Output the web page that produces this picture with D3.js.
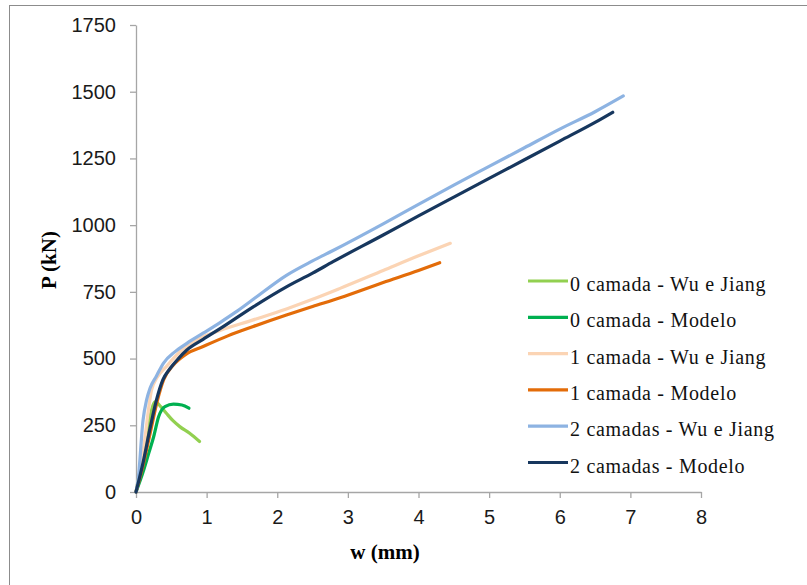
<!DOCTYPE html>
<html>
<head>
<meta charset="utf-8">
<script src="https://cdn.jsdelivr.net/npm/d3@7"></script>
<style>
  body { margin: 0; background: #fff; }
</style>
</head>
<body>
<div id="chart"></div>
<script>
// data: [w (mm), P (kN)]
const zeroWuJiang = [[0,0],[0.1,140],[0.2,285],[0.27,338],[0.35,320],[0.43,295],[0.52,268],[0.62,245],[0.76,220],[0.9,189]];
const zeroModelo = [[0,0],[0.1,75],[0.18,145],[0.25,207],[0.32,282],[0.41,320],[0.53,329],[0.65,326],[0.75,314]];
const oneWuJiang = [[0,0],[0.1,150],[0.22,382],[0.3,430],[0.43,470],[0.6,520],[0.95,582],[1.19,605],[1.66,645],[2.13,686],[2.5,722],[2.89,763],[3.5,830],[4.0,885],[4.45,932]];
const oneModelo = [[0,0],[0.1,100],[0.2,220],[0.3,340],[0.39,420],[0.53,476],[0.7,515],[0.95,545],[1.3,585],[1.66,620],[2.13,663],[2.5,695],[2.89,728],[3.5,785],[4.0,830],[4.3,859]];
const twoWuJiang = [[0,0],[0.03,45],[0.1,270],[0.15,345],[0.2,390],[0.29,435],[0.39,483],[0.55,525],[0.72,557],[0.95,595],[1.19,635],[1.4,672],[1.66,722],[2.13,812],[2.5,866],[2.79,905],[3.5,1005],[4.0,1078],[4.5,1150],[5.0,1220],[5.5,1290],[6.0,1360],[6.5,1425],[6.9,1484]];
const twoModelo = [[0,0],[0.1,110],[0.2,240],[0.29,345],[0.38,420],[0.48,462],[0.6,500],[0.72,532],[0.95,572],[1.19,612],[1.66,694],[2.13,769],[2.5,820],[2.79,863],[3.5,963],[4.0,1035],[4.5,1105],[5.0,1175],[5.5,1245],[6.0,1315],[6.5,1385],[6.75,1423]];

const seriesNames = ["0 camada - Wu e Jiang", "0 camada - Modelo", "1 camada - Wu e Jiang",
                     "1 camada - Modelo", "2 camadas - Wu e Jiang", "2 camadas - Modelo"];
const seriesData = [zeroWuJiang, zeroModelo, oneWuJiang, oneModelo, twoWuJiang, twoModelo];
const seriesColors = ["#92d050", "#00b050", "#fbd4b4", "#e36c09", "#8db3e2", "#17375e"];

const xTicks = [0, 1, 2, 3, 4, 5, 6, 7, 8];
const yTicks = [0, 250, 500, 750, 1000, 1250, 1500, 1750];

const width = 807, height = 585;

const svg = d3.select("#chart")
  .append("svg")
    .attr("width", width)
    .attr("height", height);

// outer frame of the page figure
svg.append("rect")
  .attr("x", 9.5)
  .attr("y", 5.5)
  .attr("width", 820)
  .attr("height", 600)
  .attr("fill", "none")
  .attr("stroke", "#8c8c8c")
  .attr("stroke-width", 1);

const x = d3.scaleLinear().domain([0, 8]).range([136, 701]);
const y = d3.scaleLinear().domain([0, 1750]).range([492, 25]);

// X axis
const xAxis = svg.append("g")
  .attr("transform", `translate(0, ${y(0)})`)
  .call(d3.axisBottom(x).tickValues(xTicks).tickFormat(d3.format("d"))
    .tickSize(6).tickPadding(12).tickSizeOuter(0));

// Y axis
const yAxis = svg.append("g")
  .attr("transform", `translate(${x(0)}, 0)`)
  .call(d3.axisLeft(y).tickValues(yTicks).tickFormat(d3.format("d"))
    .tickSize(6).tickPadding(14).tickSizeOuter(0));

[xAxis, yAxis].forEach(a => {
  a.select(".domain").attr("stroke", "#a6a6a6").attr("stroke-width", 1.3);
  a.selectAll(".tick line").attr("stroke", "#a6a6a6").attr("stroke-width", 1.3);
  a.selectAll("text")
    .attr("fill", "#1a1a1a")
    .style("font-family", "Arial, 'Liberation Sans', sans-serif")
    .style("font-size", "20px");
});

// axis titles
svg.append("text")
  .attr("x", 385)
  .attr("y", 559)
  .attr("text-anchor", "middle")
  .style("font-family", "'Times New Roman', 'Liberation Serif', serif")
  .style("font-weight", "bold")
  .style("font-size", "21px")
  .text("w (mm)");

svg.append("text")
  .attr("transform", "translate(56, 260) rotate(-90)")
  .attr("text-anchor", "middle")
  .style("font-family", "'Times New Roman', 'Liberation Serif', serif")
  .style("font-weight", "bold")
  .style("font-size", "21px")
  .text("P (kN)");

// Lines
const line = d3.line()
  .x(d => x(d[0]))
  .y(d => y(d[1]))
  .curve(d3.curveMonotoneX);

svg.selectAll("path.serie")
  .data(seriesData)
  .join("path")
    .attr("class", "serie")
    .attr("d", d => line(d))
    .attr("fill", "none")
    .attr("stroke", (d, i) => seriesColors[i])
    .attr("stroke-width", 3.2)
    .attr("stroke-linecap", "round")
    .attr("stroke-linejoin", "round");

// Legend
const legend = svg.selectAll("g.legend")
  .data(seriesNames)
  .join("g")
    .attr("class", "legend")
    .attr("transform", (d, i) => `translate(528, ${281 + i * 36.3})`);

legend.append("line")
  .attr("x1", 0)
  .attr("x2", 40)
  .attr("stroke", (d, i) => seriesColors[i])
  .attr("stroke-width", 3.2);

legend.append("text")
  .attr("x", 42)
  .attr("y", 10)
  .attr("fill", "#111")
  .style("font-family", "'Times New Roman', 'Liberation Serif', serif")
  .style("font-size", "20px")
  .style("letter-spacing", "0.7px")
  .text(d => d);
</script>
</body>
</html>
